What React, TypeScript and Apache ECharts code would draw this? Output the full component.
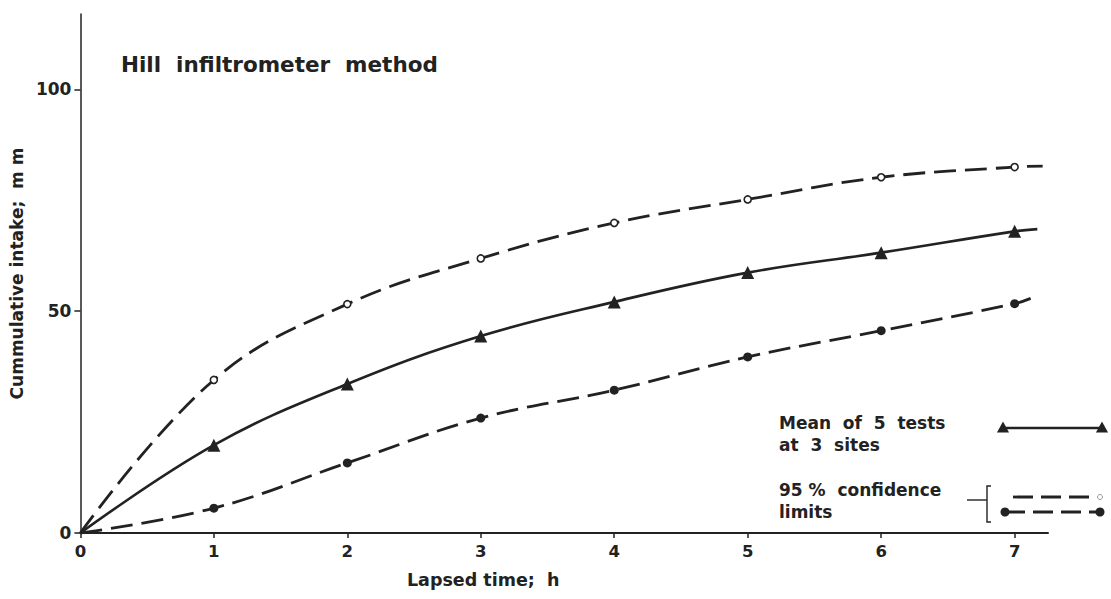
import React, { useEffect, useRef } from "react";
import * as echarts from "echarts";

const hours = [0, 1, 2, 3, 4, 5, 6, 7];
const upperLimit = [0, 34.5, 51.6, 61.9, 69.9, 75.2, 80.2, 82.5];
const meanIntake = [0, 19.8, 33.6, 44.4, 52.1, 58.7, 63.2, 68.0];
const lowerLimit = [0, 5.6, 15.8, 25.9, 32.2, 39.7, 45.6, 51.7];
const upperTail = [7.21, 82.7];
const meanTail = [7.17, 68.5];
const lowerTail = [7.12, 52.9];
const yTicks = [0, 50, 100];
const xTicks = [0, 1, 2, 3, 4, 5, 6, 7];

const INK = "#222";
const FONT = "DejaVu Sans";

function build(vals: number[], tail: number[]) {
  const d: any[] = hours.map((h, i) =>
    i === 0 ? { value: [h, vals[i]], symbol: "none" } : { value: [h, vals[i]] }
  );
  d.push({ value: tail, symbol: "none" });
  return d;
}

export default function App() {
  const ref = useRef<HTMLDivElement>(null);
  useEffect(() => {
    if (!ref.current) return;
    const chart = echarts.init(ref.current, null, { renderer: "svg" });
    const txt = (text: string, x: number, y: number, size = 17) => ({
      type: "text",
      x,
      y,
      style: {
        text,
        fill: INK,
        fontSize: size,
        fontWeight: "bold",
        fontFamily: FONT,
        verticalAlign: "middle",
        align: "left",
      },
    });
    const tri = (cx: number, cy: number, s: number) => ({
      type: "polygon",
      shape: { points: [[cx, cy - s * 0.6], [cx - s * 0.55, cy + s * 0.4], [cx + s * 0.55, cy + s * 0.4]] },
      style: { fill: INK },
    });
    chart.setOption({
      animation: false,
      title: {
        text: "Hill  infiltrometer  method",
        left: 116,
        top: 48,
        textStyle: { fontFamily: FONT, fontSize: 21.5, fontWeight: "bold", color: INK },
      },
      grid: { left: 80, right: 63, top: 14, bottom: 66 },
      xAxis: {
        type: "value",
        min: 0,
        max: 7.25,
        interval: 1,
        name: "Lapsed time;  h",
        nameLocation: "middle",
        nameGap: 38,
        nameTextStyle: {
          fontFamily: FONT,
          fontSize: 17.5,
          fontWeight: "bold",
          color: INK,
          padding: [0, 162, 0, 0],
        },
        splitLine: { show: false },
        axisLine: { lineStyle: { color: INK, width: 2 } },
        axisTick: { customValues: xTicks, length: 5, lineStyle: { color: INK, width: 1.5 } },
        axisLabel: {
          customValues: xTicks,
          margin: 10,
          fontFamily: FONT,
          fontSize: 16.5,
          fontWeight: "bold",
          color: INK,
        },
      },
      yAxis: {
        type: "value",
        min: 0,
        max: 117,
        interval: 50,
        name: "Cummulative intake;  m m",
        nameLocation: "middle",
        nameGap: 43,
        nameTextStyle: { fontFamily: FONT, fontSize: 17, fontWeight: "bold", color: INK },
        splitLine: { show: false },
        axisLine: { show: true, lineStyle: { color: INK, width: 1.5 } },
        axisTick: { show: true, customValues: yTicks, length: 6, lineStyle: { color: INK, width: 1.5 } },
        axisLabel: {
          customValues: yTicks,
          margin: 9,
          fontFamily: FONT,
          fontSize: 17,
          fontWeight: "bold",
          color: INK,
        },
      },
      series: [
        {
          name: "Upper 95% limit",
          type: "line",
          smooth: 0.4,
          data: build(upperLimit, upperTail),
          symbol: "circle",
          symbolSize: 7,
          lineStyle: { color: INK, width: 2.8, type: [22, 9] },
          itemStyle: { color: "#fff", borderColor: INK, borderWidth: 1.6 },
          z: 3,
        },
        {
          name: "Mean of 5 tests at 3 sites",
          type: "line",
          smooth: 0.4,
          data: build(meanIntake, meanTail),
          symbol: "triangle",
          symbolSize: 13,
          lineStyle: { color: INK, width: 2.6 },
          itemStyle: { color: INK },
          z: 3,
        },
        {
          name: "Lower 95% limit",
          type: "line",
          smooth: 0.4,
          data: build(lowerLimit, lowerTail),
          symbol: "circle",
          symbolSize: 9,
          lineStyle: { color: INK, width: 2.8, type: [22, 9] },
          itemStyle: { color: INK },
          z: 3,
        },
      ],
      graphic: [
        txt("Mean  of  5  tests", 779, 423),
        txt("at  3  sites", 779, 445),
        txt("95 %  confidence", 779, 490),
        txt("limits", 779, 512),
        {
          type: "line",
          shape: { x1: 1004, y1: 428, x2: 1101, y2: 428 },
          style: { stroke: INK, lineWidth: 2.6 },
        },
        tri(1003, 428, 11),
        tri(1102, 428, 11),
        {
          type: "polyline",
          shape: { points: [[991, 486], [987, 486], [987, 522], [991, 522]] },
          style: { stroke: INK, lineWidth: 1.4, fill: "none" },
        },
        {
          type: "line",
          shape: { x1: 967, y1: 500, x2: 987, y2: 500 },
          style: { stroke: INK, lineWidth: 1.4 },
        },
        {
          type: "line",
          shape: { x1: 1013, y1: 497, x2: 1096, y2: 497 },
          style: { stroke: INK, lineWidth: 2.8, lineDash: [20, 8] },
        },
        {
          type: "circle",
          shape: { cx: 1100, cy: 497, r: 2.5 },
          style: { fill: "#fff", stroke: "#999", lineWidth: 1 },
        },
        {
          type: "line",
          shape: { x1: 1005, y1: 512, x2: 1100, y2: 512 },
          style: { stroke: INK, lineWidth: 2.8, lineDash: [20, 8] },
        },
        { type: "circle", shape: { cx: 1005, cy: 512, r: 4.5 }, style: { fill: INK } },
        { type: "circle", shape: { cx: 1100, cy: 512, r: 4.5 }, style: { fill: INK } },
      ],
    });
    return () => chart.dispose();
  }, []);
  return (
    <div
      ref={ref}
      style={{ position: "fixed", left: 0, top: 0, width: 1111, height: 599, background: "#fff" }}
    />
  );
}
